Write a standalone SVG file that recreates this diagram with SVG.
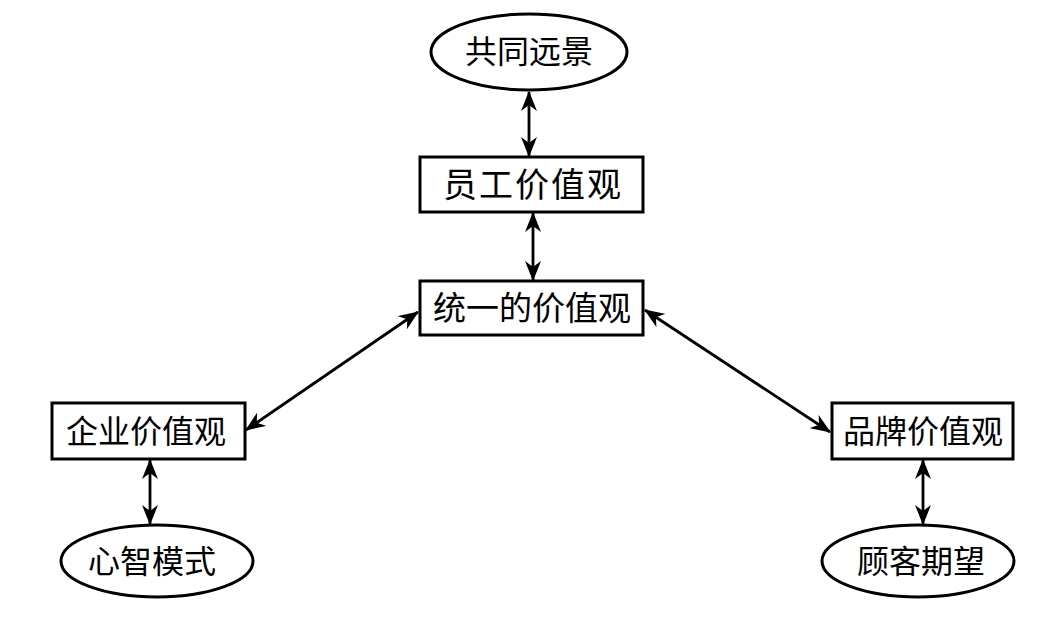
<svg xmlns="http://www.w3.org/2000/svg" width="1062" height="619" viewBox="0 0 1062 619">
<style>
.box{fill:#fff;stroke:#000;stroke-width:3}
.t{font-family:"Liberation Serif","Noto Sans CJK SC",serif;font-size:32px;fill:#000;text-anchor:middle;dominant-baseline:central}
.c{stroke:#000;stroke-width:2.8;fill:none;marker-start:url(#ah);marker-end:url(#ah)}
</style>
<defs>
<marker id="ah" viewBox="0 0 20 16" refX="19" refY="8" markerWidth="20" markerHeight="16" markerUnits="userSpaceOnUse" orient="auto-start-reverse">
<path d="M0,0 L20,8 L0,16 L6,8 z" fill="#000"/>
</marker>
</defs>
<rect width="1062" height="619" fill="#fff"/>
<g id="connectors">
<line class="c" x1="529" y1="92" x2="529" y2="156"/>
<line class="c" x1="533" y1="213" x2="533" y2="280"/>
<line class="c" x1="150" y1="460" x2="150" y2="524"/>
<line class="c" x1="923" y1="460" x2="923" y2="524"/>
<line class="c" x1="418" y1="312" x2="246" y2="430"/>
<line class="c" x1="645" y1="310" x2="830" y2="432"/>
</g>
<g id="n1"><ellipse class="box" cx="529" cy="52" rx="98" ry="38"/><text class="t" x="529" y="52">共同远景</text></g>
<g id="n2"><rect class="box" x="420" y="157" width="223" height="55"/><text class="t" x="533" y="185" style="font-size:34px;letter-spacing:2px">员工价值观</text></g>
<g id="n3"><rect class="box" x="420" y="281" width="223" height="54"/><text class="t" x="532" y="309" style="font-size:33px">统一的价值观</text></g>
<g id="n4"><rect class="box" x="52" y="403" width="193" height="56"/><text class="t" x="146" y="432">企业价值观</text></g>
<g id="n5"><rect class="box" x="832" y="403" width="181" height="56"/><text class="t" x="923" y="432">品牌价值观</text></g>
<g id="n6"><ellipse class="box" cx="157" cy="561" rx="96" ry="36"/><text class="t" x="152" y="562">心智模式</text></g>
<g id="n7"><ellipse class="box" cx="918" cy="561" rx="96" ry="36"/><text class="t" x="921" y="562">顾客期望</text></g>
</svg>
